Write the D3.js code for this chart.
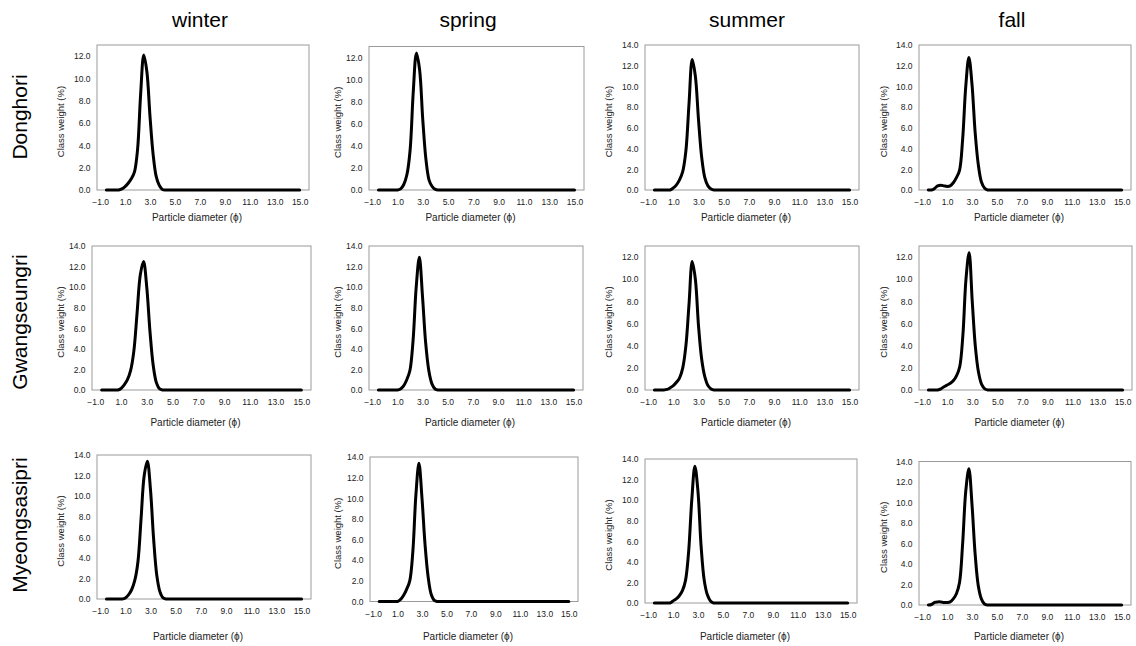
<!DOCTYPE html>
<html>
<head>
<meta charset="utf-8">
<script src="https://cdn.jsdelivr.net/npm/d3@7"></script>
<style>
  body { margin: 0; background: #fff; }
  svg { display: block; font-family: "Liberation Sans", Arial, sans-serif; }
</style>
</head>
<body>
<div id="chart"></div>
<script>
// grain size distributions by site and season
const seasons = ["winter", "spring", "summer", "fall"];
const sites = ["Donghori", "Gwangseungri", "Myeongsasipri"];

// particle diameter classes (phi)
const phi = [-0.5, -0.25, 0, 0.25, 0.5, 0.75, 1, 1.25, 1.5, 1.75, 2, 2.25, 2.5, 2.75, 3, 3.25, 3.5, 3.75, 4, 4.25, 4.5, 15];

const xTicks = [-1, 1, 3, 5, 7, 9, 11, 13, 15];

// class weight (%), one array per site/season
const donghoriWinter = [0, 0, 0, 0, 0, 0.1, 0.3, 0.6, 1.0, 1.6, 3.6, 8.6, 12.1, 10.6, 6.6, 3.2, 1.2, 0.4, 0.05, 0, 0, 0];
const donghoriSpring = [0, 0, 0, 0, 0, 0, 0, 0.1, 0.5, 1.4, 3.6, 8.9, 12.4, 10.9, 6.4, 2.8, 0.9, 0.3, 0.05, 0, 0, 0];
const donghoriSummer = [0, 0, 0, 0, 0, 0, 0.2, 0.5, 1.0, 1.8, 3.8, 8.4, 12.6, 11.0, 6.8, 3.2, 1.2, 0.4, 0.1, 0, 0, 0];
const donghoriFall = [0, 0, 0.15, 0.4, 0.45, 0.4, 0.35, 0.4, 0.7, 1.2, 1.9, 4.9, 10.0, 12.8, 10.2, 5.6, 2.5, 0.8, 0.2, 0, 0, 0];

const gwangWinter = [0, 0, 0, 0, 0, 0, 0.15, 0.5, 1.0, 1.9, 3.8, 7.5, 11.2, 12.5, 10.0, 5.7, 2.4, 0.7, 0.1, 0, 0, 0];
const gwangSpring = [0, 0, 0, 0, 0, 0, 0, 0.1, 0.4, 1.0, 1.9, 4.8, 10.0, 12.9, 9.1, 4.6, 1.9, 0.6, 0.1, 0, 0, 0];
const gwangSummer = [0, 0, 0, 0, 0.05, 0.2, 0.4, 0.7, 1.1, 2.0, 4.0, 7.8, 11.6, 10.0, 5.8, 2.8, 1.2, 0.4, 0.1, 0, 0, 0];
const gwangFall = [0, 0, 0, 0, 0.1, 0.3, 0.45, 0.6, 0.85, 1.3, 2.1, 4.9, 10.0, 12.4, 8.0, 3.9, 1.6, 0.5, 0.1, 0, 0, 0];

const myeongWinter = [0, 0, 0, 0, 0, 0, 0.1, 0.4, 0.9, 1.8, 3.6, 7.8, 12.0, 13.4, 10.6, 5.8, 2.3, 0.7, 0.1, 0, 0, 0];
const myeongSpring = [0, 0, 0, 0, 0, 0, 0, 0.2, 0.6, 1.2, 2.0, 4.8, 10.3, 13.4, 10.0, 5.5, 2.4, 0.7, 0.1, 0, 0, 0];
const myeongSummer = [0, 0, 0, 0, 0, 0, 0.2, 0.4, 0.7, 1.2, 2.2, 5.0, 10.0, 13.3, 10.8, 5.5, 2.2, 0.8, 0.2, 0, 0, 0];
const myeongFall = [0, 0.05, 0.25, 0.3, 0.3, 0.25, 0.25, 0.3, 0.6, 1.1, 2.2, 6.0, 11.1, 13.3, 9.8, 5.0, 1.9, 0.6, 0.1, 0, 0, 0];

const series = [
  [donghoriWinter, donghoriSpring, donghoriSummer, donghoriFall],
  [gwangWinter, gwangSpring, gwangSummer, gwangFall],
  [myeongWinter, myeongSpring, myeongSummer, myeongFall]
];

// y axis maximum of each panel
const yMax = [
  [13, 13, 14, 14],
  [14, 14, 13, 13],
  [14, 14, 14, 14]
];

// plot boxes [left, right, top, bottom] - the panels are not on a regular grid
const boxes = [
  [[97, 309, 45, 190], [369, 584, 46.5, 190], [645, 859, 45, 190], [919, 1131, 45, 190]],
  [[92, 311, 246, 390], [369, 583, 246, 390], [645, 859, 246, 390], [919, 1132, 246, 390]],
  [[97, 311, 455, 599], [370, 578, 457, 601.5], [645, 857, 459, 603], [919, 1131, 461.5, 605]]
];
const xTitleY = [217, 422, 636];
const yTitleX = [60, 337, 608, 883];
const colTitleX = [200, 468, 747, 1012];
const rowTitleY = [117, 322, 525];

const W = 1136, H = 646;
const svg = d3.select("#chart").append("svg")
  .attr("width", W)
  .attr("height", H);

const fmt = d3.format(".1f");

// column and row headings
svg.selectAll(".col-title").data(seasons).enter().append("text")
  .attr("x", (d, i) => colTitleX[i])
  .attr("y", 27)
  .attr("text-anchor", "middle")
  .attr("font-size", 21)
  .attr("fill", "#000")
  .text(d => d);

svg.selectAll(".row-title").data(sites).enter().append("text")
  .attr("transform", (d, i) => `translate(27,${rowTitleY[i]}) rotate(-90)`)
  .attr("text-anchor", "middle")
  .attr("font-size", 21)
  .attr("fill", "#000")
  .text(d => d);

sites.forEach((site, r) => {
  seasons.forEach((season, c) => {
    const [l, rt, t, b] = boxes[r][c];
    const x = d3.scaleLinear().domain([-1.25, 15.75]).range([l, rt]);
    const y = d3.scaleLinear().domain([0, yMax[r][c]]).range([b, t]);
    const g = svg.append("g");

    // plot area border
    g.append("rect")
      .attr("x", l).attr("y", t)
      .attr("width", rt - l).attr("height", b - t)
      .attr("fill", "none")
      .attr("stroke", "#9a9a9a")
      .attr("stroke-width", 1);

    const yAxis = d3.axisLeft(y)
      .tickValues(d3.range(0, yMax[r][c] + 0.01, 2))
      .tickFormat(fmt)
      .tickSize(0)
      .tickPadding(6.5);
    g.append("g")
      .attr("transform", `translate(${l},0)`)
      .call(yAxis)
      .call(s => s.select(".domain").remove())
      .selectAll("text")
      .attr("font-size", 8.5)
      .attr("font-family", "Liberation Sans, Arial, sans-serif")
      .attr("fill", "#222");

    const xAxis = d3.axisBottom(x)
      .tickValues(xTicks)
      .tickFormat(fmt)
      .tickSize(0)
      .tickPadding(9);
    g.append("g")
      .attr("transform", `translate(0,${b})`)
      .call(xAxis)
      .call(s => s.select(".domain").remove())
      .selectAll("text")
      .attr("font-size", 8.5)
      .attr("font-family", "Liberation Sans, Arial, sans-serif")
      .attr("fill", "#222");

    // axis titles
    g.append("text")
      .attr("x", (l + rt) / 2 - 6)
      .attr("y", xTitleY[r] + 3.5)
      .attr("text-anchor", "middle")
      .attr("font-size", 10)
      .attr("fill", "#222")
      .text("Particle diameter (\u03d5)");

    g.append("text")
      .attr("transform", `translate(${yTitleX[c] + 3.5},${(t + b) / 2 + 4}) rotate(-90)`)
      .attr("text-anchor", "middle")
      .attr("font-size", 9.5)
      .attr("fill", "#222")
      .text("Class weight (%)");

    // distribution curve
    const pts = phi.map((p, i) => [p, series[r][c][i]]);
    const line = d3.line()
      .x(d => x(d[0]))
      .y(d => y(d[1]))
      .curve(d3.curveCatmullRom.alpha(0.5));
    g.append("path")
      .datum(pts)
      .attr("d", line)
      .attr("fill", "none")
      .attr("stroke", "#000")
      .attr("stroke-width", 3)
      .attr("stroke-linejoin", "round")
      .attr("stroke-linecap", "round");
  });
});
</script>
</body>
</html>
